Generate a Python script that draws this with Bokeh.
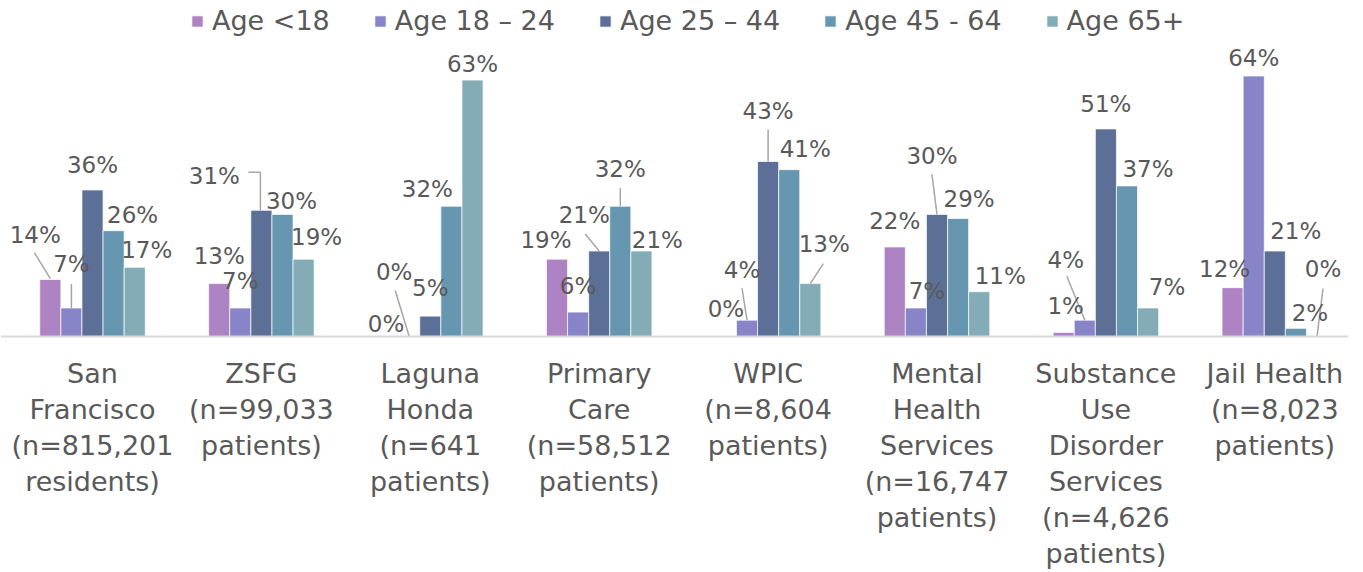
from bokeh.plotting import figure
from bokeh.models import ColumnDataSource, Range1d, Span
from bokeh.core.properties import value
from bokeh.embed import file_html
from bokeh.resources import INLINE

# ---------------- data ----------------
categories = [
    "San\nFrancisco\n(n=815,201\nresidents)",
    "ZSFG\n(n=99,033\npatients)",
    "Laguna\nHonda\n(n=641\npatients)",
    "Primary\nCare\n(n=58,512\npatients)",
    "WPIC\n(n=8,604\npatients)",
    "Mental\nHealth\nServices\n(n=16,747\npatients)",
    "Substance\nUse\nDisorder\nServices\n(n=4,626\npatients)",
    "Jail Health\n(n=8,023\npatients)",
]
series_names = ["Age <18", "Age 18 \u2013 24", "Age 25 \u2013 44", "Age 45 - 64", "Age 65+"]
age_under_18 = [14, 13, 0, 19, 0, 22, 1, 12]
age_18_24 = [7, 7, 0, 6, 4, 7, 4, 64]
age_25_44 = [36, 31, 5, 21, 43, 30, 51, 21]
age_45_64 = [26, 30, 32, 32, 41, 29, 37, 2]
age_65_plus = [17, 19, 63, 21, 13, 11, 7, 0]
series_values = [age_under_18, age_18_24, age_25_44, age_45_64, age_65_plus]

# ---------------- styles / layout ----------------
colors = ["#ae83c4", "#8784c7", "#5c7097", "#6797b0", "#84acb6"]
TEXT_COLOR = "#595959"
FONT = "DejaVu Sans"
W, H = 1348, 570
PX_PER_CAT = 168.9
PX_PER_PCT = 4.07
FIRST_CENTER_PX = 92
BASELINE_PX = 336
BAR_STEP = 21.1 / PX_PER_CAT
LABEL_LINE0_PX = 37
LABEL_LINE_STEP_PX = 36

# data-label offsets in screen px (dx right, dy down) relative to bar top centre
DEFAULT_OFFSET = (0, -17)
label_offsets = {
    (0, 0): (-15, -45), (1, 0): (0, -44), (2, 0): (0, -25), (3, 0): (19, -16), (4, 0): (12, -17),
    (0, 1): (0, -28), (1, 1): (0, -27), (2, 1): (-47, -34), (3, 1): (9, -13), (4, 1): (13, -22),
    (0, 2): (-2, -13), (1, 2): (-15, -65), (2, 2): (0, -28), (3, 2): (-24, -17), (4, 2): (0, -16),
    (0, 3): (-11, -19), (1, 3): (0, -26), (2, 3): (-15, -36), (3, 3): (0, -37), (4, 3): (16, -11),
    (0, 4): (0, -28), (1, 4): (-5, -50), (2, 4): (0, -50), (3, 4): (16, -21), (4, 4): (14, -40),
    (0, 5): (0, -26), (1, 5): (11, -17), (2, 5): (-5, -58), (3, 5): (11, -19), (4, 5): (21, -16),
    (0, 6): (2, -26), (1, 6): (-19, -60), (2, 6): (0, -25), (3, 6): (21, -17), (4, 6): (19, -21),
    (0, 7): (-8, -19), (1, 7): (0, -18), (2, 7): (21, -20), (3, 7): (14, -15), (4, 7): (6, -68),
}
# leader lines: points in px relative to bar top centre
leaders = {
    (0, 0): [(-16, -27), (0, -1)],
    (1, 0): [(0, -24), (0, 0)],
    (2, 1): [(-13, -38), (-1, -38), (-1, 0)],
    (1, 2): [(-14, -46), (0, 0)],
    (2, 3): [(-14, -17), (0, 0)],
    (3, 3): [(0, -18), (0, 0)],
    (1, 4): [(-5, -32), (0, 0)],
    (2, 4): [(0, -32), (0, 0)],
    (4, 4): [(13, -20), (0, 0)],
    (2, 5): [(-5, -40), (0, 0)],
    (1, 6): [(-18, -44), (0, 0)],
    (4, 7): [(6, -48), (0, 0)],
}

x_start = -FIRST_CENTER_PX / PX_PER_CAT
x_end = x_start + W / PX_PER_CAT
y_end = BASELINE_PX / PX_PER_PCT
y_start = -(H - BASELINE_PX) / PX_PER_PCT

p = figure(width=W, height=H, output_backend="svg", toolbar_location=None,
           x_range=Range1d(x_start, x_end), y_range=Range1d(y_start, y_end),
           x_axis_type=None, y_axis_type=None, min_border=0,
           outline_line_color=None, background_fill_color="white")

lab_x, lab_y, lab_t = [], [], []
lead_xs, lead_ys = [], []
for j, (name, vals, col) in enumerate(zip(series_names, series_values, colors)):
    xs = [i + (j - 2) * BAR_STEP for i in range(len(categories))]
    src = ColumnDataSource(dict(x=xs, top=vals))
    p.vbar(x="x", top="top", bottom=0, width=BAR_STEP, source=src,
           fill_color=col, line_color="white", line_width=1, line_alpha=0.7,
           legend_label=name)
    for i, (x, v) in enumerate(zip(xs, vals)):
        dx, dy = label_offsets.get((j, i), DEFAULT_OFFSET)
        lab_x.append(x + dx / PX_PER_CAT)
        lab_y.append(v - dy / PX_PER_PCT)
        lab_t.append(f"{v}%")
        if (j, i) in leaders:
            pts = leaders[(j, i)]
            lead_xs.append([x + a / PX_PER_CAT for a, b in pts])
            lead_ys.append([v - b / PX_PER_PCT for a, b in pts])

p.multi_line(xs=lead_xs, ys=lead_ys, line_color="#a6a6a6", line_width=1.5)

p.add_layout(Span(location=0, dimension="width", line_color="#d9d9d9", line_width=2))

p.text(x=lab_x, y=lab_y, text=lab_t, text_font=value(FONT), text_font_size="23px",
       text_color=TEXT_COLOR, text_align="center", text_baseline="middle")

cx, cy, ct = [], [], []
for i, cat in enumerate(categories):
    for k, line in enumerate(cat.split("\n")):
        cx.append(i)
        cy.append(-(LABEL_LINE0_PX + k * LABEL_LINE_STEP_PX) / PX_PER_PCT)
        ct.append(line)
p.text(x=cx, y=cy, text=ct, text_font=value(FONT), text_font_size="27px",
       text_color=TEXT_COLOR, text_align="center", text_baseline="middle")

lg = p.legend[0]
lg.orientation = "horizontal"
lg.location = (190, 534)
lg.border_line_color = None
lg.background_fill_alpha = 0
lg.padding = 0
lg.margin = 0
lg.spacing = 43
lg.glyph_width = 14
lg.glyph_height = 14
lg.label_standoff = 8
lg.label_text_font = FONT
lg.label_text_font_size = "27px"
lg.label_text_color = TEXT_COLOR

open("out.html", "w").write(file_html(p, INLINE))
